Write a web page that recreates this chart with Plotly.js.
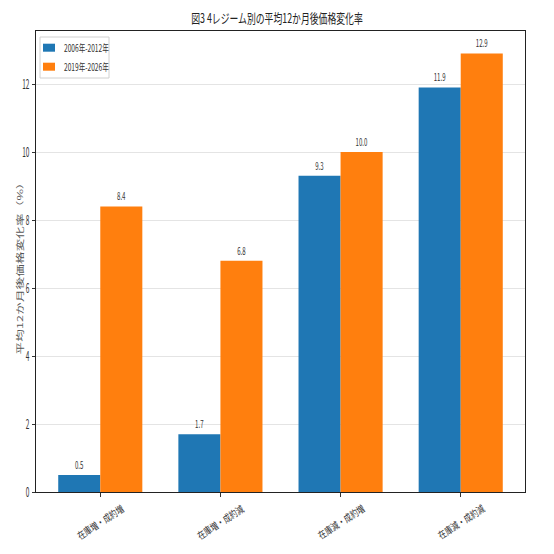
<!DOCTYPE html>
<html><head><meta charset="utf-8">
<script src="https://cdn.plot.ly/plotly-3.0.1.min.js"></script>
<style>html,body{margin:0;padding:0;background:#fff}#c{width:554px;height:554px}</style>
</head><body><div id="c"></div>
<script>
const categories = ["在庫増・成約増", "在庫増・成約減", "在庫減・成約増", "在庫減・成約減"];
const series1Name = "2006年-2012年";
const series2Name = "2019年-2026年";
const series1 = [0.5, 1.7, 9.3, 11.9];
const series2 = [8.4, 6.8, 10.0, 12.9];
const yTicks = [0, 2, 4, 6, 8, 10, 12];
const colors = ['#1f77b4', '#ff7f0e'];
const chartTitle = '図3 4レジーム別の平均12か月後価格変化率';
const yTitle = '平均12か月後価格変化率（%）';

const F = "'Noto Sans CJK JP', 'DejaVu Sans', sans-serif";
const L = 36, R = 525, T = 31, B = 492;
const px2x = p => (p - L) / (R - L);
const px2y = p => (B - p) / (B - T);

const idx = categories.map((_, i) => i);
const mk = (vals, name, color, off) => ({
  type: 'bar', x: idx.map(i => i + off), y: vals, name: name, width: 0.35,
  marker: {color: color},
  text: vals.map(v => v.toFixed(1)), textposition: 'outside', constraintext: 'none',
  textfont: {family: F, size: 10.5, color: '#333'}, cliponaxis: false
});
const data = [mk(series1, series1Name, colors[0], -0.175), mk(series2, series2Name, colors[1], 0.175)];

const annotations = categories.map((c, i) => ({
  xref: 'x', yref: 'paper', x: i, y: -0.064, text: c, showarrow: false,
  textangle: -33, xanchor: 'center', yanchor: 'middle',
  font: {family: F, size: 10, color: '#333'}
}));
annotations.push({
  xref: 'paper', yref: 'paper', x: px2x(19), y: 0.49, text: yTitle,
  showarrow: false, textangle: -90, xanchor: 'center', yanchor: 'middle',
  font: {family: F, size: 12.5, color: '#555'}
});
const shapes = [{
  type: 'rect', xref: 'paper', yref: 'paper', x0: px2x(40), x1: px2x(109), y0: px2y(78), y1: px2y(37),
  line: {color: '#d0d0d0', width: 1}, fillcolor: 'rgba(255,255,255,0.85)', layer: 'above'
}];
[series1Name, series2Name].forEach((n, k) => {
  const cy = 47.7 + k * 19;
  shapes.push({
    type: 'rect', xref: 'paper', yref: 'paper', x0: px2x(43), x1: px2x(55), y0: px2y(cy + 4), y1: px2y(cy - 4),
    line: {width: 0}, fillcolor: colors[k], layer: 'above'
  });
  annotations.push({
    xref: 'paper', yref: 'paper', x: px2x(61.5), y: px2y(cy), text: n, showarrow: false,
    xanchor: 'left', yanchor: 'middle', align: 'left',
    font: {family: F, size: 10, color: '#333'}
  });
});

const layout = {
  width: 554, height: 554,
  margin: {l: L, r: 554 - R, t: T, b: 554 - B},
  paper_bgcolor: '#fff', plot_bgcolor: '#fff',
  font: {family: F, size: 10, color: '#333'},
  title: {text: chartTitle, font: {family: F, size: 13, color: '#222'}, x: 0.5, xanchor: 'center', yref: 'container', y: 0.9666, yanchor: 'middle'},
  barmode: 'overlay',
  showlegend: false,
  annotations: annotations,
  shapes: shapes,
  xaxis: {
    range: [-0.535, 3.535], tickmode: 'array', tickvals: idx, showticklabels: false,
    ticks: 'outside', ticklen: 3.5, tickcolor: '#333',
    showline: true, linecolor: '#222', linewidth: 1, mirror: true, showgrid: false, zeroline: false
  },
  yaxis: {
    range: [0, 13.56], tickmode: 'array', tickvals: yTicks,
    ticks: 'outside', ticklen: 3, tickcolor: '#333',
    showline: true, linecolor: '#222', linewidth: 1, mirror: true,
    showgrid: true, gridcolor: '#e4e4e4', zeroline: false,
    tickfont: {family: F, size: 13, color: '#333'}
  }
};

// the reference uses a very narrow typeface; compress glyphs along the baseline
function narrowText(gd) {
  const legendNames = [series1Name, series2Name];
  gd.querySelectorAll('svg text').forEach(t => {
    const s = t.textContent;
    const len = t.getComputedTextLength();
    if (!len) return;
    if (s === yTitle) {
      // rotated title: widen letter spacing, and make glyphs thinner on screen
      t.setAttribute('textLength', '178');
      t.setAttribute('lengthAdjust', 'spacing');
      const r = t.getBoundingClientRect();
      const svg = t.ownerSVGElement;
      const p = r.left + r.width / 2 - svg.getBoundingClientRect().left;
      const P = t.parentNode.getCTM();
      const S = svg.createSVGMatrix().translate(p, 0).scaleNonUniform(0.62, 1).translate(-p, 0);
      const M = P.inverse().multiply(S).multiply(P);
      const old = t.getAttribute('transform') || '';
      t.setAttribute('transform', `matrix(${M.a},${M.b},${M.c},${M.d},${M.e},${M.f}) ${old}`);
      return;
    }
    let f = 0.66;
    if (s === chartTitle) f = 0.68;
    else if (categories.includes(s)) f = 0.76;
    else if (legendNames.includes(s)) f = 0.66;
    else if (t.closest('.ytick') || (t.parentNode && t.parentNode.classList && t.parentNode.classList.contains('ytick'))) f = 0.5;
    else if (t.classList.contains('bartext')) f = 0.58;
    t.setAttribute('textLength', (len * f).toFixed(2));
    t.setAttribute('lengthAdjust', 'spacingAndGlyphs');
  });
}
Plotly.newPlot('c', data, layout, {displayModeBar: false, staticPlot: true}).then(narrowText);
</script></body></html>
